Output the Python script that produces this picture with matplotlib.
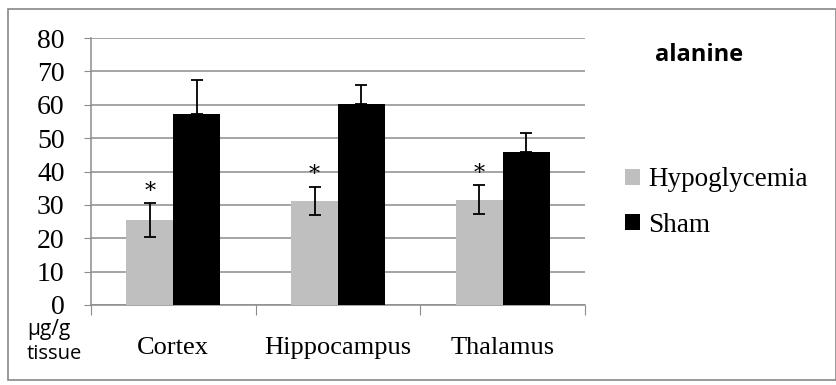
import matplotlib
matplotlib.use("Agg")
import matplotlib.pyplot as plt
import numpy as np
from matplotlib.patches import Rectangle

categories = ["Cortex", "Hippocampus", "Thalamus"]
hypo = [25.5, 31.2, 31.6]
hypo_err = [5.0, 4.2, 4.3]
sham = [57.1, 60.2, 45.8]
sham_err = [10.2, 5.7, 5.6]
yticks = [0, 10, 20, 30, 40, 50, 60, 70, 80]

W, H = 837, 385
fig = plt.figure(figsize=(W/100, H/100), dpi=100)
fig.patch.set_facecolor("white")

# outer frame
fig.add_artist(Rectangle((8/W, 1 - 380/H), (836-8)/W, (380-9)/H, transform=fig.transFigure,
                         fill=False, edgecolor="#888888", linewidth=1.2))

ax = fig.add_axes([91/W, 1 - 305/H, (585-91)/W, (305-38)/H])
x = np.arange(len(categories))
bw = 0.285
gray = "#bfbfbf"
ax.bar(x - bw/2, hypo, bw, color=gray, zorder=3, label="Hypoglycemia")
ax.bar(x + bw/2, sham, bw, color="black", zorder=3, label="Sham")
ax.errorbar(x - bw/2, hypo, yerr=hypo_err, fmt="none", ecolor="black", elinewidth=1.3,
            capsize=4.5, capthick=1.3, zorder=4)
ax.errorbar(x + bw/2, sham, yerr=[[0]*3, sham_err], fmt="none", ecolor="black", elinewidth=1.3,
            capsize=4.5, capthick=1.3, zorder=4)
for xi, v, e in zip(x, hypo, hypo_err):
    ax.text(xi - bw/2, v + e + 0.2, "*", ha="center", va="bottom", fontsize=16,
            family="DejaVu Serif", zorder=5)

ax.set_xlim(-0.5, 2.5)
ax.set_ylim(0, 80)
ax.set_yticks(yticks)
ax.set_yticklabels([str(t) for t in yticks], family="Liberation Serif", fontsize=20)
ax.yaxis.grid(True, color="#8c8c8c", linewidth=1.1, zorder=0)
ax.set_axisbelow(True)
for s in ["top", "right"]:
    ax.spines[s].set_visible(False)
ax.spines["left"].set_color("#8c8c8c")
ax.spines["bottom"].set_color("#8c8c8c")
ax.spines["left"].set_linewidth(1.1)
ax.spines["bottom"].set_linewidth(1.1)
ax.tick_params(axis="y", length=5, color="#8c8c8c", pad=14)
ax.set_xticks([-0.5, 0.5, 1.5, 2.5])
ax.set_xticklabels([])
ax.tick_params(axis="x", length=7, color="#8c8c8c")
for xi, c in zip(x, categories):
    ax.text(xi, -12.8, c, ha="center", va="center", family="Liberation Serif", fontsize=19)

fig.text(27/W, 1 - 319/H, "µg/g", ha="left", va="top", family="Open Sans", fontsize=15)
fig.text(27/W, 1 - 354/H, "tissue", ha="left", va="center", family="Open Sans", fontsize=14.5)
fig.text(699/W, 1 - 55/H, "alanine", ha="center", va="center", family="Open Sans",
         fontweight="bold", fontsize=17)

leg = fig.legend(handles=ax.patches[:1] + ax.patches[3:4], labels=["Hypoglycemia", "Sham"],
                 loc="upper left", bbox_to_anchor=(601/W, 1 - 143/H), frameon=False,
                 prop={"family": "Liberation Serif", "size": 19.5}, handlelength=0.55,
                 handleheight=0.55, handletextpad=0.3, labelspacing=0.75)

fig.savefig("out.png", dpi=100, facecolor="white")
